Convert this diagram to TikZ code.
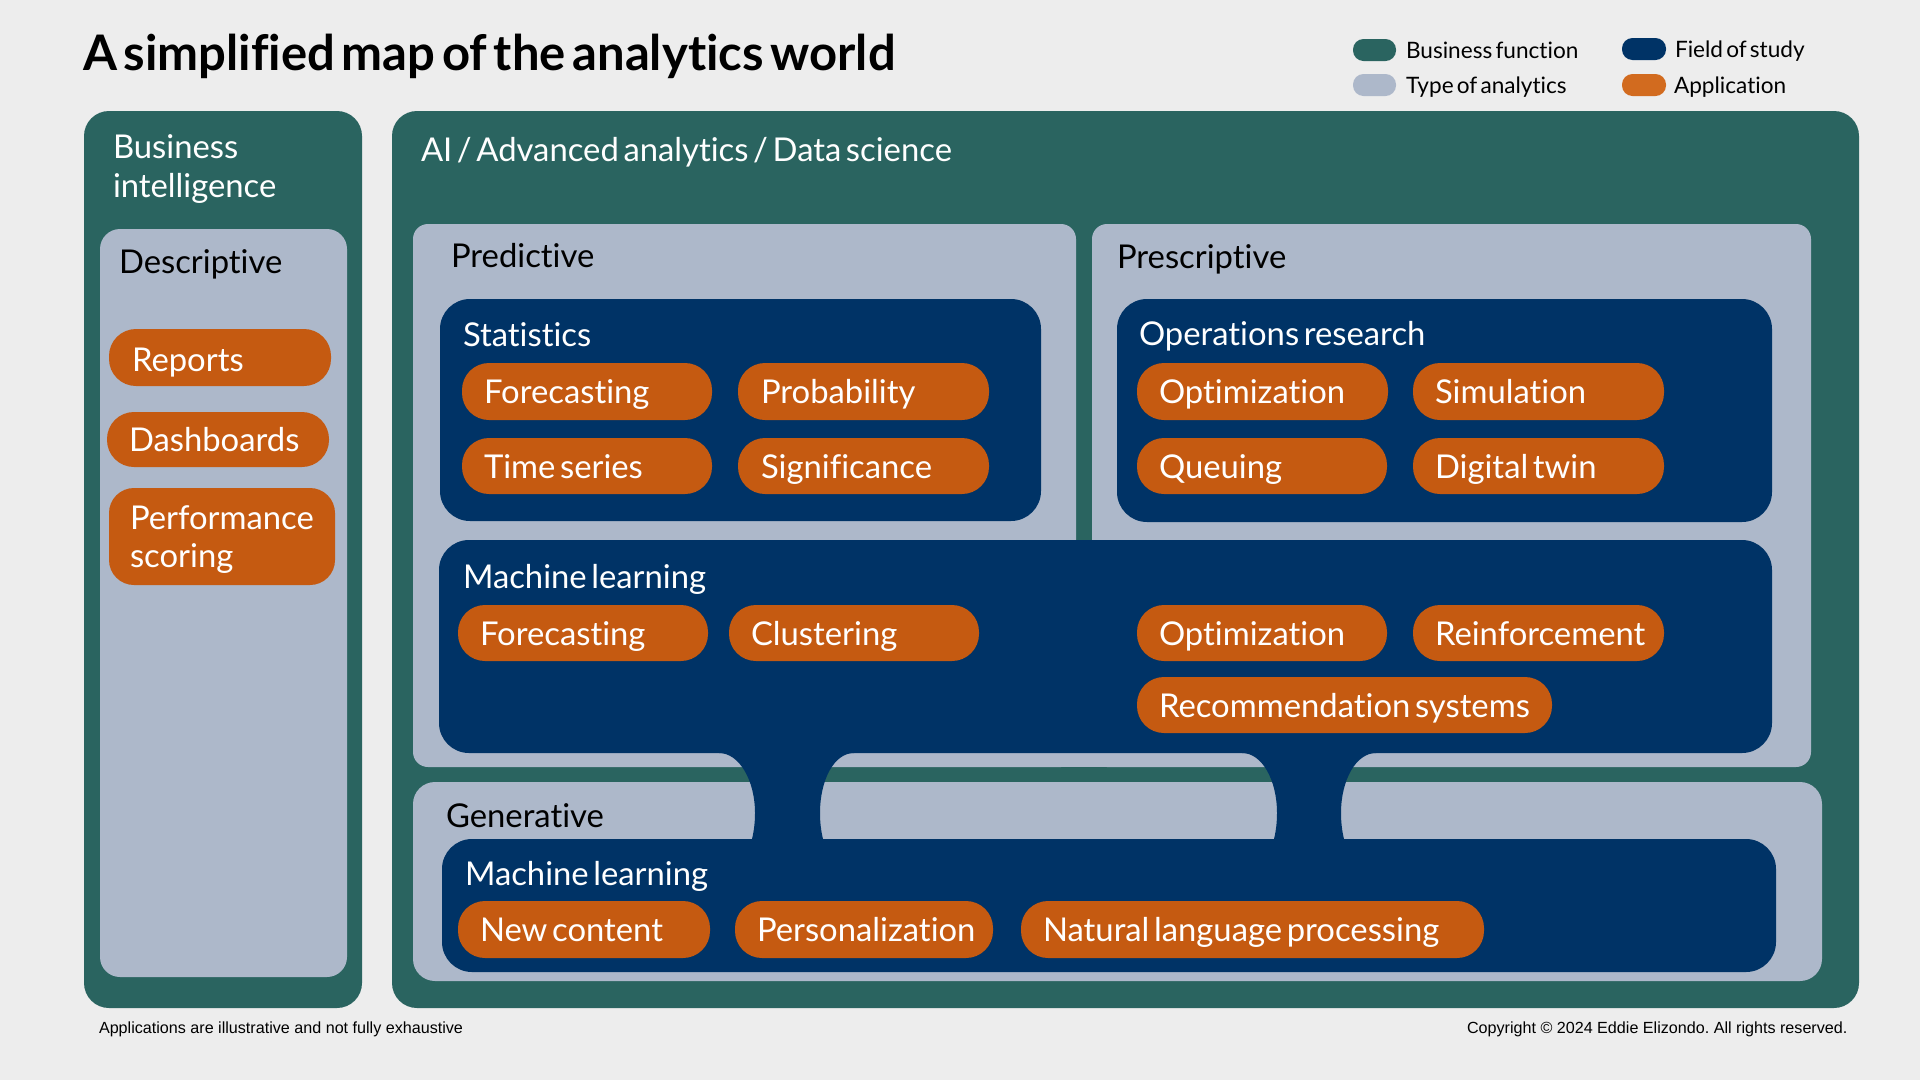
\documentclass[tikz,border=0pt]{standalone}
\usepackage{fontspec}
\setmainfont{Lato}[Ligatures=NoCommon,WordSpace=0.55]
\newfontfamily\footfont{Liberation Sans}
\definecolor{bgc}{HTML}{EDEDED}
\definecolor{greenc}{HTML}{2A6460}
\definecolor{greyc}{HTML}{ADB8CA}
\definecolor{navyc}{HTML}{003366}
\definecolor{orangec}{HTML}{C55A11}
\definecolor{legorange}{HTML}{D26B1F}
\tikzset{
  panel/.style={fill=greenc,draw=none,rounded corners=25pt},
  typebox/.style={fill=greyc,draw=none,rounded corners=15pt},
  fieldbox/.style={fill=navyc,draw=none,rounded corners=30pt},
  pill/.style={fill=orangec,draw=none,rounded corners=27pt},
  legendpill/.style={draw=none,rounded corners=10.5pt},
  lab/.style={anchor=base west,inner sep=0pt,outer sep=0pt,font=\fontsize{32.8}{38}\selectfont},
  wlab/.style={lab,text=white},
  klab/.style={lab,text=black},
  leglab/.style={anchor=base west,inner sep=0pt,outer sep=0pt,font=\fontsize{22.6}{27}\selectfont,text=black},
  foot/.style={anchor=base west,inner sep=0pt,outer sep=0pt,font=\footfont\frenchspacing\fontsize{16.13}{19}\selectfont,text=black},
}
% \bx{name}{x1}{y1}{x2}{y2}{style}
\newcommand{\bx}[6]{%
  \pgfmathsetmacro{\bxw}{#4-#2}\pgfmathsetmacro{\bxh}{#5-#3}%
  \node[#6,anchor=north west,inner sep=0pt,outer sep=0pt,minimum width=\bxw pt,minimum height=\bxh pt] (#1) at (#2,#3) {};%
}
\newcommand{\tx}[5]{\node[#1] (#2) at (#3,#4) {#5};}
\begin{document}
\begin{tikzpicture}[x=1pt,y=-1pt]
\useasboundingbox (0,0) rectangle (1920,1080);
\fill[bgc] (0,0) rectangle (1920,1080);
% title
\node[anchor=base west,inner sep=0pt,font=\bfseries\fontsize{49}{58}\selectfont] (title) at (83,70) {A simplified map of the analytics world};
% legend
\bx{lg1}{1353}{39}{1396}{61}{legendpill,fill=greenc}
\bx{lg2}{1353}{74}{1396}{96}{legendpill,fill=greyc}
\bx{lg3}{1622}{38}{1666}{60}{legendpill,fill=navyc}
\bx{lg4}{1622}{74}{1666}{96}{legendpill,fill=legorange}
\tx{leglab}{lt1}{1406}{58}{Business function}
\tx{leglab}{lt2}{1406}{93}{Type of analytics}
\tx{leglab}{lt3}{1675}{57}{Field of study}
\tx{leglab}{lt4}{1674}{93}{Application}
% left panel
\bx{bi}{84}{111}{362}{1008}{panel}
\tx{wlab}{bit1}{113}{158}{Business}
\tx{wlab}{bit2}{113}{197}{intelligence}
\bx{desc}{100}{229}{347}{977}{typebox,rounded corners=20pt}
\tx{klab}{desct}{119}{273}{Descriptive}
\bx{reports}{109}{329}{331}{386}{pill}
\tx{wlab}{reportst}{132}{371}{Reports}
\bx{dash}{107}{412}{329}{467}{pill}
\tx{wlab}{dasht}{129}{451}{Dashboards}
\bx{perf}{109}{488}{335}{585}{pill,rounded corners=25pt}
\tx{wlab}{perft1}{130}{529}{Performance}
\tx{wlab}{perft2}{130}{567}{scoring}
% main panel
\bx{ai}{392}{111}{1859}{1008}{panel}
\tx{wlab}{ait}{421}{161}{AI / Advanced analytics / Data science}
\bx{pred}{413}{224}{1076}{767}{typebox}
\tx{klab}{predt}{451}{267}{Predictive}
\bx{presc}{1092}{224}{1811}{767}{typebox}
\tx{klab}{presct}{1117}{268}{Prescriptive}
\bx{gen}{413}{782}{1822}{981}{typebox,rounded corners=22pt}
\tx{klab}{gent}{446}{827}{Generative}
% the strip that joins the two analytics types under machine learning
\fill[greyc] (1050,745) rectangle (1120,767);
% links between the two machine-learning fields
\fill[navyc] (719,753) .. controls (739,753) and (755,780) .. (755,813) .. controls (755,822) and (754,831) .. (752,839)
  -- (823,839) .. controls (821,831) and (820,822) .. (820,813) .. controls (820,780) and (834,753) .. (854,753) -- cycle;
\fill[navyc] (1242,753) .. controls (1262,753) and (1277,780) .. (1277,813) .. controls (1277,822) and (1276,831) .. (1274,839)
  -- (1344,839) .. controls (1342,831) and (1341,822) .. (1341,813) .. controls (1341,780) and (1356,753) .. (1376,753) -- cycle;
% statistics
\bx{stat}{440}{299}{1041}{521}{fieldbox}
\tx{wlab}{statt}{463}{346}{Statistics}
\bx{p1}{462}{363}{712}{420}{pill}
\tx{wlab}{p1t}{484}{403}{Forecasting}
\bx{p2}{738}{363}{989}{420}{pill}
\tx{wlab}{p2t}{761}{403}{Probability}
\bx{p3}{462}{438}{712}{494}{pill}
\tx{wlab}{p3t}{484}{478}{Time series}
\bx{p4}{738}{438}{989}{494}{pill}
\tx{wlab}{p4t}{761}{478}{Significance}
% operations research
\bx{or}{1117}{299}{1772}{522}{fieldbox}
\tx{wlab}{ort}{1139}{345}{Operations research}
\bx{q1}{1137}{363}{1388}{420}{pill}
\tx{wlab}{q1t}{1159}{403}{Optimization}
\bx{q2}{1413}{363}{1664}{420}{pill}
\tx{wlab}{q2t}{1435}{403}{Simulation}
\bx{q3}{1137}{438}{1387}{494}{pill}
\tx{wlab}{q3t}{1159}{478}{Queuing}
\bx{q4}{1413}{438}{1664}{494}{pill}
\tx{wlab}{q4t}{1435}{478}{Digital twin}
% machine learning, upper
\bx{ml}{439}{540}{1772}{753}{fieldbox}
\tx{wlab}{mlt}{463}{588}{Machine learning}
\bx{m1}{458}{605}{708}{661}{pill}
\tx{wlab}{m1t}{480}{645}{Forecasting}
\bx{m2}{729}{605}{979}{661}{pill}
\tx{wlab}{m2t}{751}{645}{Clustering}
\bx{m3}{1137}{605}{1387}{661}{pill}
\tx{wlab}{m3t}{1159}{645}{Optimization}
\bx{m4}{1413}{605}{1664}{661}{pill}
\tx{wlab}{m4t}{1435}{645}{Reinforcement}
\bx{m5}{1137}{677}{1552}{733}{pill}
\tx{wlab}{m5t}{1159}{717}{Recommendation systems}
% machine learning, lower
\bx{mg}{442}{839}{1776}{972}{fieldbox}
\tx{wlab}{mgt}{465}{885}{Machine learning}
\bx{g1}{458}{901}{710}{958}{pill}
\tx{wlab}{g1t}{480}{941}{New content}
\bx{g2}{735}{901}{993}{958}{pill}
\tx{wlab}{g2t}{757}{941}{Personalization}
\bx{g3}{1021}{901}{1484}{958}{pill}
\tx{wlab}{g3t}{1043}{941}{Natural language processing}
% footer
\tx{foot}{fl}{99}{1033}{Applications are illustrative and not fully exhaustive}
\tx{foot}{fr}{1467}{1033}{Copyright © 2024 Eddie Elizondo. All rights reserved.}
\end{tikzpicture}
\end{document}
